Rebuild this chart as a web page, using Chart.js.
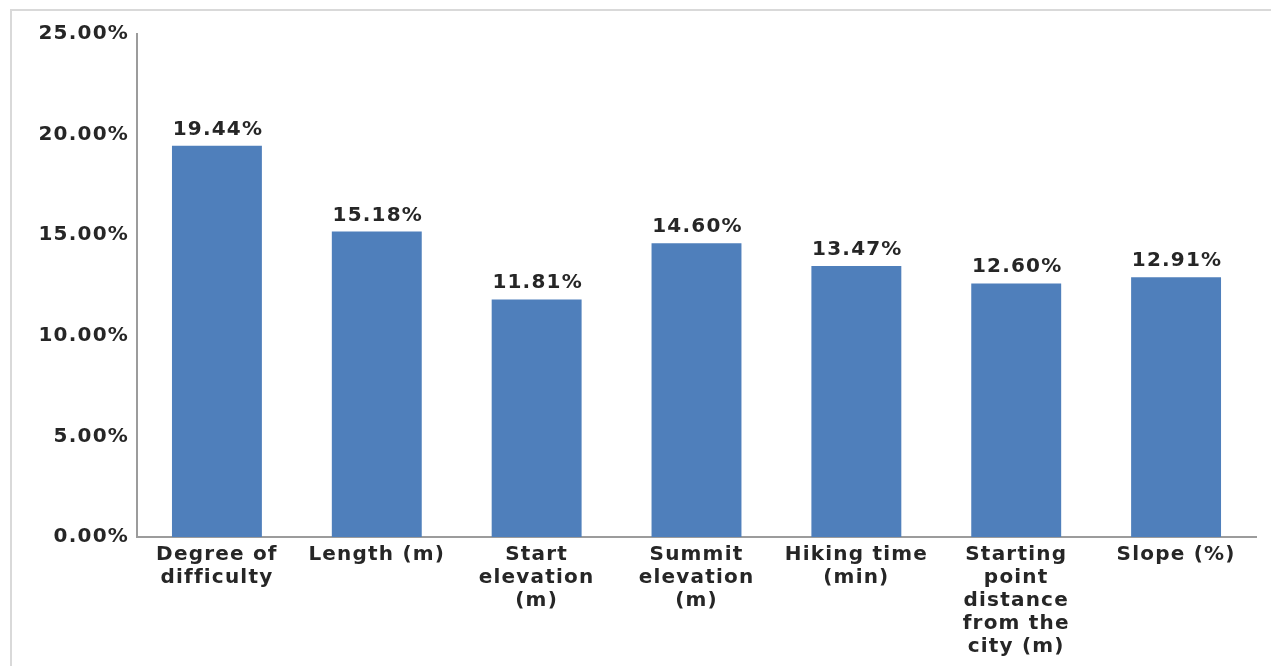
<!DOCTYPE html>
<html>
<head>
<meta charset="utf-8">
<script src="https://cdn.jsdelivr.net/npm/chart.js@4/dist/chart.umd.min.js"></script>
<style>
  html, body { margin: 0; padding: 0; background: #ffffff; }
  #wrap { position: relative; width: 1271px; height: 666px; }
  canvas { display: block; }
</style>
</head>
<body>
<div id="wrap"><canvas id="c" width="1271" height="666"></canvas></div>
<script>
// Category labels (one entry per line of the axis label)
const categories = [
  ['Degree of', 'difficulty'],
  ['Length (m)'],
  ['Start', 'elevation', '(m)'],
  ['Summit', 'elevation', '(m)'],
  ['Hiking time', '(min)'],
  ['Starting', 'point', 'distance', 'from the', 'city (m)'],
  ['Slope (%)']
];

// Weight of each factor, in percent
const weights = [19.44, 15.18, 11.81, 14.60, 13.47, 12.60, 12.91];

// Value axis ticks, in percent
const yTicks = [0, 5, 10, 15, 20, 25];

const FONT = { family: '"DejaVu Sans", Verdana, sans-serif', size: 20, weight: 'bold', lineHeight: 1.15 };
const TEXT = '#262626';
const SPACING = '1.2px';

// Letter spacing for canvas text, plus a thin frame on the top and left edges
const spacingPlugin = {
  id: 'spacing',
  beforeLayout(chart) { chart.ctx.letterSpacing = SPACING; },
  beforeDraw(chart) {
    const ctx = chart.ctx;
    ctx.letterSpacing = SPACING;
    ctx.save();
    ctx.strokeStyle = '#d9d9d9';
    ctx.lineWidth = 2;
    ctx.beginPath();
    ctx.moveTo(11, 666);
    ctx.lineTo(11, 10);
    ctx.lineTo(1271, 10);
    ctx.stroke();
    ctx.restore();
  }
};

// Percentage labels above each bar
const valueLabels = {
  id: 'valueLabels',
  afterDatasetsDraw(chart) {
    const ctx = chart.ctx;
    const meta = chart.getDatasetMeta(0);
    ctx.save();
    ctx.letterSpacing = SPACING;
    ctx.font = `bold ${FONT.size}px ${FONT.family}`;
    ctx.fillStyle = TEXT;
    ctx.textAlign = 'center';
    ctx.textBaseline = 'alphabetic';
    meta.data.forEach((bar, i) => {
      const v = chart.data.datasets[0].data[i];
      ctx.fillText(v.toFixed(2) + '%', bar.x + 1, bar.y - 11);
    });
    ctx.restore();
  }
};

new Chart(document.getElementById('c'), {
  type: 'bar',
  data: {
    labels: categories,
    datasets: [{
      data: weights,
      backgroundColor: '#4f7fbb',
      borderWidth: 0,
      barPercentage: 0.5625,
      categoryPercentage: 1.0
    }]
  },
  options: {
    responsive: false,
    animation: false,
    devicePixelRatio: 1,
    layout: { padding: { top: 34, right: 15, left: 0, bottom: 0 } },
    plugins: {
      legend: { display: false },
      tooltip: { enabled: false },
      title: { display: false }
    },
    scales: {
      x: {
        grid: { display: false, drawTicks: false },
        border: { display: true, color: '#9c9c9c', width: 2 },
        ticks: {
          color: TEXT,
          font: FONT,
          padding: 6,
          maxRotation: 0,
          minRotation: 0,
          autoSkip: false
        },
        afterFit(scale) { scale.height = 129; }
      },
      y: {
        min: 0,
        max: 25,
        grid: { display: false, drawTicks: false },
        border: { display: true, color: '#9c9c9c', width: 2 },
        afterBuildTicks(scale) { scale.ticks = yTicks.map(v => ({ value: v })); },
        ticks: {
          color: TEXT,
          font: FONT,
          padding: 8,
          callback: v => v.toFixed(2) + '%'
        },
        afterFit(scale) { scale.width = 137; }
      }
    }
  },
  plugins: [spacingPlugin, valueLabels]
});
</script>
</body>
</html>
